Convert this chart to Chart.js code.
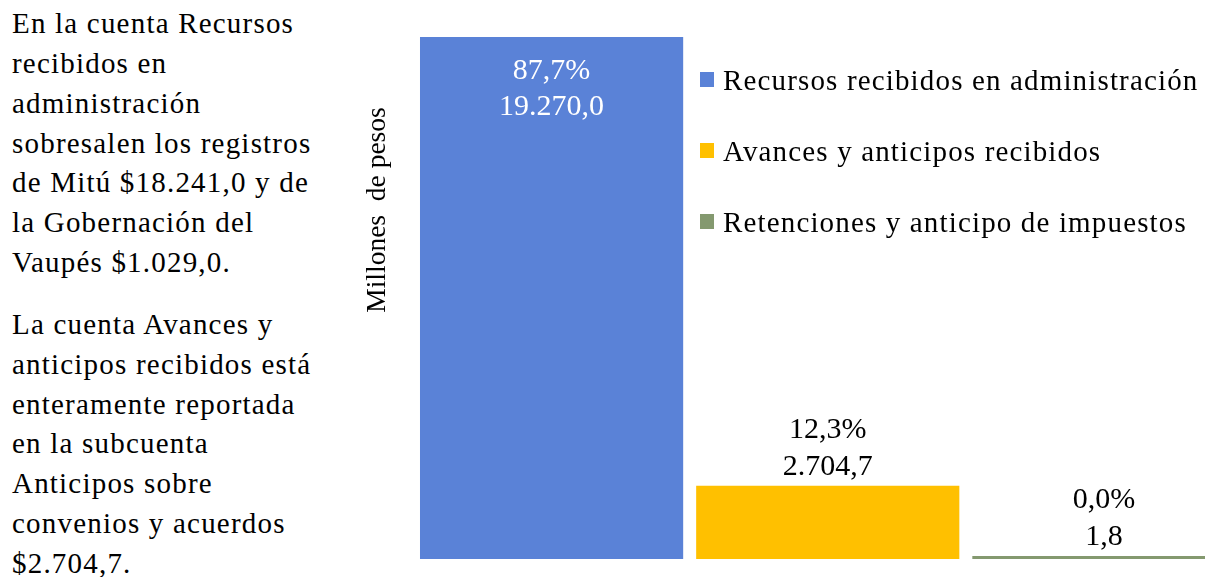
<!DOCTYPE html>
<html>
<head>
<meta charset="utf-8">
<script src="https://cdn.jsdelivr.net/npm/chart.js@4"></script>
<style>
    body { margin: 0; width: 1205px; height: 577px; overflow: hidden; background: #fff; position: relative; font-family: "Liberation Serif", "Times New Roman", serif; }
    #notes { position: absolute; left: 12px; top: 4.4px; font-size: 29px; line-height: 39.7px; letter-spacing: 1.2px; color: #000; white-space: nowrap; }
    #notes p { margin: 0 0 23px 0; }
    #chartBox { position: absolute; left: 0; top: 0; }
    #legend { position: absolute; left: 700px; top: 44.7px; font-size: 29px; letter-spacing: 1.15px; color: #000; }
    .legend-item { position: relative; height: 71px; line-height: 71px; white-space: nowrap; padding-left: 23px; }
    .legend-box { position: absolute; left: 0; top: 27.3px; width: 14px; height: 15px; }
</style>
</head>
<body>
<div id="notes">
    <p>En la cuenta Recursos<br>recibidos en<br>administración<br>sobresalen los registros<br>de Mitú $18.241,0 y de<br>la Gobernación del<br>Vaupés $1.029,0.</p>
    <p>La cuenta Avances y<br>anticipos recibidos está<br>enteramente reportada<br>en la subcuenta<br>Anticipos sobre<br>convenios y acuerdos<br>$2.704,7.</p>
</div>
<div id="chartBox"><canvas id="cuentasChart" width="1242" height="577"></canvas></div>
<div id="legend"></div>

<script>
// Data
const seriesNames = ['Recursos recibidos en administración', 'Avances y anticipos recibidos', 'Retenciones y anticipo de impuestos'];
const seriesValues = [19270.0, 2704.7, 1.8];
const valueLabels = ['19.270,0', '2.704,7', '1,8'];
const pctLabels = ['87,7%', '12,3%', '0,0%'];
const seriesColors = ['#5A82D7', '#FFC000', '#84996F'];
const axisTitle = 'Millones  de pesos';

const serif = '"Liberation Serif", "Times New Roman", serif';

// Labels on top of / inside the bars
const barLabels = {
    id: 'barLabels',
    afterDatasetsDraw(chart) {
        const ctx = chart.ctx;
        ctx.save();
        ctx.font = '30px ' + serif;
        ctx.textAlign = 'center';
        ctx.textBaseline = 'alphabetic';
        chart.data.datasets.forEach((ds, i) => {
            const bar = chart.getDatasetMeta(i).data[0];
            if (!bar) return;
            if (i === 0) {
                // inside the tall bar, near its top
                ctx.fillStyle = '#fff';
                ctx.fillText(pctLabels[i], bar.x, bar.y + 42);
                ctx.fillText(valueLabels[i], bar.x, bar.y + 78);
            } else {
                ctx.fillStyle = '#000';
                ctx.fillText(pctLabels[i], bar.x, bar.y - 48);
                ctx.fillText(valueLabels[i], bar.x, bar.y - 11);
            }
        });
        ctx.restore();
    }
};

// Rotated y title (sits off-centre in the original)
const yTitle = {
    id: 'yTitle',
    afterDraw(chart) {
        const ctx = chart.ctx;
        ctx.save();
        ctx.translate(378, 210);
        ctx.rotate(-Math.PI / 2);
        ctx.font = '27.5px ' + serif;
        ctx.fillStyle = '#000';
        ctx.textAlign = 'center';
        ctx.textBaseline = 'middle';
        ctx.fillText(axisTitle, 0, 0);
        ctx.restore();
    }
};

function buildLegend() {
    const legend = document.getElementById('legend');
    legend.innerHTML = seriesNames.map((name, i) => `
        <div class="legend-item"><span class="legend-box" style="background:${seriesColors[i]}"></span>${name}</div>
    `).join('');
}

function createChart() {
    const ctx = document.getElementById('cuentasChart').getContext('2d');
    new Chart(ctx, {
        type: 'bar',
        data: {
            labels: [''],
            datasets: seriesNames.map((name, i) => ({
                label: name,
                data: [seriesValues[i]],
                backgroundColor: seriesColors[i],
                borderWidth: 0,
                minBarLength: 3,
                barPercentage: 0.953,
                categoryPercentage: 1
            }))
        },
        options: {
            responsive: false,
            animation: false,
            layout: { padding: { left: 413.5, top: 37, right: 0, bottom: 18 } },
            plugins: {
                legend: { display: false },
                tooltip: { enabled: false }
            },
            scales: {
                x: { display: false },
                y: { display: false, min: 0, max: 19270 }
            }
        },
        plugins: [barLabels, yTitle]
    });
}

buildLegend();
createChart();
</script>
</body>
</html>
